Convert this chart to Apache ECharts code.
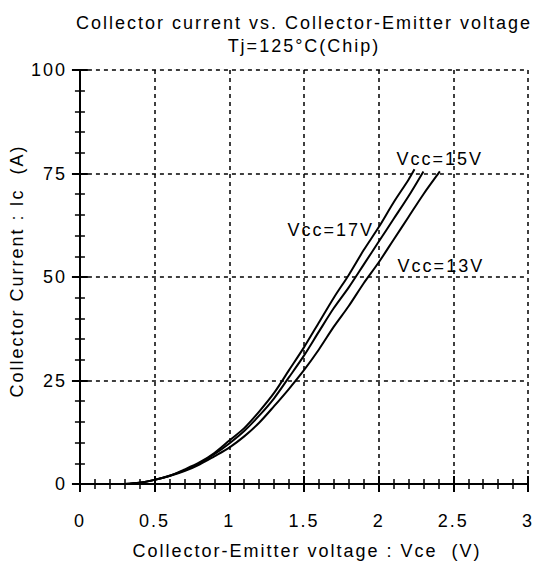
<!DOCTYPE html>
<html><head><meta charset="utf-8">
<script src="https://cdn.jsdelivr.net/npm/echarts@6/dist/echarts.min.js"></script>
<style>html,body{margin:0;padding:0;background:#fff}#c{width:536px;height:569px}#c text{letter-spacing:2px}</style>
</head><body><div id="c"></div>
<script>
const xTicks = [0, 0.5, 1, 1.5, 2, 2.5, 3];
const yTicks = [0, 25, 50, 75, 100];
const vce17 = [0.3,0.4,0.5,0.6,0.7,0.8,0.9,1.0,1.1,1.2,1.3,1.4,1.5,1.6,1.7,1.8,1.9,2.0,2.1,2.2,2.24];
const ic17  = [0,0.3,1,2,3.5,5.2,7.5,10.5,13.5,17.5,22,27.5,33,39,45,50.5,56.5,62,68,73.5,76];
const vce15 = [0.3,0.4,0.5,0.6,0.7,0.8,0.9,1.0,1.1,1.2,1.3,1.4,1.5,1.6,1.7,1.8,1.9,2.0,2.1,2.2,2.3];
const ic15  = [0,0.3,1,2,3.3,5,7.2,9.8,12.8,16.5,20.7,25.8,31,36.8,42.5,47.5,53,58.5,64,69.5,75.5];
const vce13 = [0.3,0.4,0.5,0.6,0.7,0.8,0.9,1.0,1.1,1.2,1.3,1.4,1.5,1.6,1.7,1.8,1.9,2.0,2.1,2.2,2.3,2.41];
const ic13  = [0,0.3,1,1.9,3.1,4.7,6.7,8.8,11.5,14.8,18.8,23,27.5,32.5,38,43,48.5,53.5,59,64.5,70,75.5];
const seriesNames = ['Vcc=17V', 'Vcc=15V', 'Vcc=13V'];
const labels = [
  {text: 'Vcc=15V', x: 2.12, y: 78.5},
  {text: 'Vcc=17V', x: 1.39, y: 61.4},
  {text: 'Vcc=13V', x: 2.127, y: 52.7}
];
const font = '"Liberation Sans", Arial, sans-serif';
const FS = 18;
const zip = (a, b) => a.map((v, i) => [v, b[i]]);
const chart = echarts.init(document.getElementById('c'), null, {renderer: 'svg'});
const axisCommon = {
  axisLine: {show: true, lineStyle: {color: '#000', width: 2}},
  axisTick: {show: true, inside: true, length: 8, lineStyle: {color: '#000', width: 2}},
  minorTick: {show: true, splitNumber: 5, length: 5, lineStyle: {color: '#000', width: 1.5}},
};
const xBase = {type: 'value', min: 0, max: 3, interval: 0.5};
const yBase = {type: 'value', min: 0, max: 100, interval: 25};
chart.setOption({
  animation: false,
  title: {
    text: 'Collector current vs. Collector-Emitter voltage\nTj=125°C(Chip)',
    left: 299, textAlign: 'center', top: 6,
    textStyle: {fontFamily: font, fontSize: FS, fontWeight: 'normal', color: '#000', lineHeight: 23}
  },
  grid: {left: 76, right: 6, top: 70, bottom: 85},
  xAxis: [
    Object.assign({}, xBase, axisCommon, {
      position: 'bottom',
      name: 'Collector-Emitter voltage : Vce  (V)', nameLocation: 'middle', nameGap: 58,
      nameTextStyle: {fontFamily: font, fontSize: FS, color: '#000', padding: [0, 0, 0, 6]},
      axisLabel: {fontFamily: font, fontSize: FS, color: '#000', margin: 28,
        formatter: v => xTicks.includes(v) ? String(v) : ''},
      splitLine: {show: true, lineStyle: {color: '#000', type: [4, 4], width: 1.5}}
    }),
    Object.assign({}, xBase, axisCommon, {
      position: 'top', axisLabel: {show: false}, splitLine: {show: false}
    })
  ],
  yAxis: [
    Object.assign({}, yBase, axisCommon, {
      position: 'left',
      name: 'Collector Current : Ic  (A)', nameLocation: 'middle', nameGap: 51, nameRotate: 90,
      nameTextStyle: {fontFamily: font, fontSize: FS, color: '#000', padding: [0, 0, 0, 12]},
      axisLabel: {fontFamily: font, fontSize: FS, color: '#000', margin: 13,
        formatter: v => yTicks.includes(v) ? String(v) : ''},
      splitLine: {show: true, lineStyle: {color: '#000', type: [4, 4], width: 1.5}}
    }),
    Object.assign({}, yBase, axisCommon, {
      position: 'right', axisLabel: {show: false}, splitLine: {show: false}
    })
  ],
  series: [
    {name: seriesNames[0], type: 'line', data: zip(vce17, ic17)},
    {name: seriesNames[1], type: 'line', data: zip(vce15, ic15)},
    {name: seriesNames[2], type: 'line', data: zip(vce13, ic13)}
  ].map(s => Object.assign(s, {smooth: 0.3, showSymbol: false, symbol: 'none',
    lineStyle: {color: '#000', width: 2}, z: 5}))
});
chart.setOption({
  graphic: labels.map(l => {
    const p = chart.convertToPixel({xAxisIndex: 0, yAxisIndex: 0}, [l.x, l.y]);
    return {type: 'text', x: p[0], y: p[1], z: 10,
      style: {text: l.text, fontFamily: font, fontSize: FS, fill: '#000',
        textAlign: 'left', textVerticalAlign: 'middle'}};
  })
});
</script></body></html>
